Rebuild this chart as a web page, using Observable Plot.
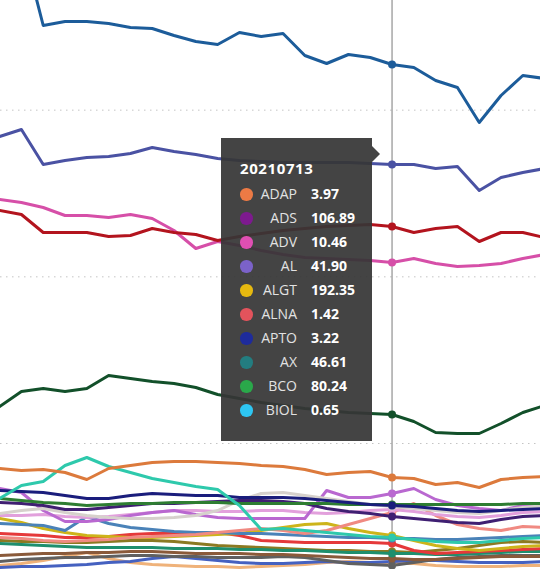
<!DOCTYPE html>
<html><head><meta charset="utf-8">
<script src="https://cdn.jsdelivr.net/npm/d3@7"></script>
<script src="https://cdn.jsdelivr.net/npm/@observablehq/plot@0.6"></script>
<style>
html,body{margin:0;padding:0;background:#fff;}
#wrap{position:relative;width:540px;height:569px;overflow:hidden;}
#tip{position:absolute;left:221px;top:138px;width:151px;height:303px;background:rgba(54,54,54,0.93);font-family:"Open Sans",sans-serif;color:#fff;}
#tip .arrow{position:absolute;left:151px;top:8px;width:0;height:0;border-top:8px solid transparent;border-bottom:8px solid transparent;border-left:8px solid rgba(54,54,54,0.93);}
#tip .title{position:absolute;left:19px;top:19px;line-height:22px;font-weight:700;font-size:15px;letter-spacing:0.6px;}
#tip .row{position:absolute;left:0;width:151px;height:24px;line-height:24px;font-size:14px;}
#tip .dot{position:absolute;left:19px;top:6px;width:12.5px;height:12.5px;border-radius:50%;}
#tip .lab{position:absolute;left:26px;width:50px;text-align:right;color:#e2e2e2;}
#tip .val{position:absolute;left:90px;font-weight:700;color:#fff;}
</style>
</head><body>
<div id="wrap"></div>
<script>
// x index 0..25 (trading days); hovered day is index 18
const days = d3.range(26);
const hoverIndex = 18;
const hoverDate = "20210713";
const gridValues = [100, 200, 300];

// upper series
const sBlueTop = [null,401.8,350.8,353.2,353.2,352.0,349.6,349.0,344.8,341.2,339.4,346.6,344.2,346.0,332.8,328.0,333.4,331.6,327.4,325.6,317.8,313.6,292.6,308.8,320.8,319.0];
const sIndigo  = [284.2,288.4,267.4,269.8,271.6,272.2,274.0,277.6,275.2,273.4,271.0,269.8,269.2,268.6,268.6,268.6,268.6,268.0,267.4,267.4,265.0,266.2,251.8,259.6,262.6,265.0];
const sDarkRed = [239.8,237.4,226.6,226.6,226.6,224.2,224.8,229.0,226.6,225.4,221.8,224.2,226.0,227.8,229.0,230.2,230.8,231.4,230.2,226.6,229.0,230.2,221.2,226.6,226.6,223.6];
const sPink    = [246.4,244.6,241.6,236.8,236.8,235.6,237.4,235.0,227.8,217.0,221.2,218.8,215.8,213.4,211.6,211.0,210.4,209.8,208.6,211.0,208.0,206.2,206.8,208.0,211.0,213.4];
const sForest  = [122.2,131.2,133.0,131.2,133.0,140.8,139.0,137.2,136.0,133.6,129.4,127.0,124.6,122.8,121.0,119.8,118.6,118.0,117.4,113.2,106.6,106.0,106.0,112.0,118.6,122.8];

// lower cluster
const sOrange   = [85.0,83.8,84.4,82.6,78.4,85.0,86.8,88.6,89.2,89.2,88.6,88.0,86.8,86.2,84.4,81.4,82.6,83.2,79.6,79.0,75.4,76.6,73.6,78.4,79.6,80.2];
const sTurq     = [67.0,74.8,77.2,86.8,91.6,86.2,82.6,79.0,76.6,74.2,72.4,62.8,48.4,49.0,47.8,46.6,45.4,44.2,43.6,42.4,41.2,40.6,40.6,41.8,43.0,43.6];
const sNavy     = [71.8,71.2,70.6,68.8,67.0,67.0,68.8,70.0,69.4,68.8,68.8,67.6,67.6,67.6,67.0,65.8,64.6,63.4,62.8,62.2,61.0,59.8,59.2,59.8,60.4,61.0];
const sGreen    = [67.0,65.8,64.6,64.0,62.8,63.4,64.0,64.0,64.6,64.6,64.6,64.0,64.0,64.0,64.0,64.0,63.4,63.4,63.4,63.4,63.4,63.4,63.4,63.4,64.0,64.0];
const sPurple   = [64.6,64.0,62.8,60.4,60.4,61.6,62.8,64.0,64.0,64.6,65.2,65.8,65.8,65.2,64.0,61.0,59.2,58.0,56.2,55.0,53.8,52.6,52.0,54.4,56.2,56.8];
const sSilver   = [58.0,59.8,61.0,58.6,56.8,55.6,55.0,55.0,55.6,56.8,59.8,65.8,70.0,70.6,68.8,67.0,65.2,63.4,62.2,61.0,59.8,58.6,58.0,59.8,61.6,62.8];
const sViolet   = [73.0,70.6,59.8,53.2,53.2,54.4,56.8,58.6,59.8,57.4,55.6,55.0,55.0,55.0,55.0,71.8,67.6,67.6,70.0,73.0,66.4,62.8,61.0,59.8,62.8,64.0];
const sLilac    = [56.8,56.8,57.4,56.2,55.6,56.2,57.4,58.6,59.8,59.8,59.2,59.2,59.8,59.8,58.6,58.0,58.6,59.8,60.4,59.2,57.4,56.2,55.6,56.8,58.6,59.2];
const sSalmon   = [43.6,43.0,41.8,41.2,41.8,42.4,43.6,44.2,44.8,45.4,46.6,47.8,49.0,47.8,46.0,47.8,51.4,55.0,58.6,64.0,56.8,51.4,49.0,47.8,50.2,49.6];
const sSteel    = [52.0,51.4,50.8,47.8,56.2,52.0,49.6,48.4,47.2,46.6,46.6,46.0,46.0,45.4,44.8,44.2,43.6,43.6,43.0,43.0,42.4,42.4,43.0,43.6,44.2,44.8];
const sYellow   = [55.0,52.6,49.0,46.6,44.8,44.2,43.6,43.6,44.2,44.8,45.4,46.0,47.8,49.6,51.4,52.0,49.0,46.6,44.8,41.8,38.8,37.0,35.8,37.0,38.2,38.8];
const sRed      = [46.0,45.4,44.8,43.6,43.6,44.2,45.4,46.0,46.0,46.0,46.6,44.8,41.8,41.2,40.6,40.6,40.6,40.6,40.0,35.8,34.0,34.6,35.2,35.8,36.4,37.0];
const sTeal     = [40.0,39.4,38.8,38.2,37.6,37.6,37.6,37.6,37.0,37.0,37.0,36.4,36.4,35.8,35.8,35.2,34.6,34.6,34.0,34.0,33.4,33.4,34.0,34.6,35.2,35.2];
const sOlive    = [41.8,41.2,41.2,40.6,40.6,41.2,41.8,41.8,41.2,40.0,38.8,38.2,37.6,37.0,36.4,35.8,35.8,35.2,35.2,34.6,35.8,37.0,38.8,40.6,41.2,40.6];
const sBrown    = [32.8,33.4,34.0,34.0,34.6,34.6,35.2,35.2,34.6,34.0,34.0,34.0,33.4,33.4,32.8,32.2,31.6,31.0,31.0,30.4,30.4,31.0,31.6,32.2,32.2,32.2];
const sGray     = [29.2,30.4,31.0,31.6,31.6,32.2,32.8,32.8,32.2,32.2,31.6,31.6,31.6,32.2,31.6,29.8,28.0,27.4,26.8,28.6,30.4,31.6,32.2,32.8,32.8,32.8];
const sBlue     = [25.6,26.2,26.2,26.8,27.4,28.6,29.2,31.0,32.2,31.0,29.8,28.6,28.0,28.0,28.6,29.2,28.6,28.6,29.2,29.8,29.8,29.2,28.6,28.6,28.6,29.2];
const sSandy    = [26.8,28.0,29.8,32.2,34.6,31.0,28.6,27.4,26.8,26.2,26.2,25.6,26.2,26.8,27.4,28.6,29.2,28.6,28.0,28.0,26.8,26.2,26.2,26.2,26.8,26.8];

// tooltip rows
const tipNames  = ["ADAP","ADS","ADV","AL","ALGT","ALNA","APTO","AX","BCO","BIOL"];
const tipValues = ["3.97","106.89","10.46","41.90","192.35","1.42","3.22","46.61","80.24","0.65"];
const tipColors = ["#ec7a45","#7d1a8e","#e04fb3","#7b62c9","#e6b910","#e2535c","#1e2b9c","#237d80","#2aa84a","#2ec6f2"];

const series = [
  ["sandy", "#efb27a", sSandy], ["blue", "#4561c0", sBlue], ["gray", "#606060", sGray],
  ["brown", "#8a5a3a", sBrown], ["olive", "#8c7a22", sOlive], ["teal", "#1e8f6e", sTeal],
  ["red", "#e5393a", sRed], ["yellow", "#cdb41a", sYellow], ["steel", "#4a82b8", sSteel],
  ["salmon", "#f08a82", sSalmon], ["lilac", "#e2a0dc", sLilac], ["violet", "#b968d0", sViolet],
  ["silver", "#d6d1cc", sSilver], ["purple", "#3f1f72", sPurple], ["green", "#2e7d32", sGreen],
  ["navy", "#1a1d7c", sNavy], ["turq", "#2ec9ac", sTurq], ["orange", "#dc7a3c", sOrange],
  ["forest", "#12502a", sForest], ["pink", "#d64fa8", sPink], ["darkred", "#b3141e", sDarkRed],
  ["indigo", "#4a52a3", sIndigo], ["bluetop", "#1c5c9a", sBlueTop]
];

const rows = [];
for (const [name, color, vals] of series) {
  vals.forEach((v, i) => { if (v != null) rows.push({s: name, color, i: days[i], v}); });
}

const chart = Plot.plot({
  width: 540,
  height: 569,
  margin: 0,
  x: {axis: null, domain: [0.04, 24.81]},
  y: {axis: null, domain: [24.4, 365.8]},
  color: {type: "identity"},
  clip: true,
  marks: [
    Plot.ruleY(gridValues, {stroke: "#c4c4c4", strokeWidth: 1, strokeDasharray: "1.5,4.5"}),
    Plot.line(rows, {x: "i", y: "v", z: "s", stroke: "color", strokeWidth: 3, strokeLinejoin: "round", strokeLinecap: "round", clip: true}),
    Plot.ruleX([hoverIndex], {stroke: "#7a7a7a", strokeWidth: 1}),
    Plot.dot(rows.filter(d => d.i === hoverIndex), {x: "i", y: "v", fill: "color", r: 4, stroke: "none"})
  ]
});

const wrap = document.getElementById("wrap");
wrap.appendChild(chart);

const tip = d3.select(wrap).append("div").attr("id", "tip");
tip.append("div").attr("class", "arrow");
tip.append("div").attr("class", "title").text(hoverDate);
tipNames.forEach((n, k) => {
  const r = tip.append("div").attr("class", "row").style("top", (44.3 + 24.0 * k) + "px");
  r.append("div").attr("class", "dot").style("background", tipColors[k]);
  r.append("div").attr("class", "lab").text(n);
  r.append("div").attr("class", "val").text(tipValues[k]);
});
</script>
</body></html>
